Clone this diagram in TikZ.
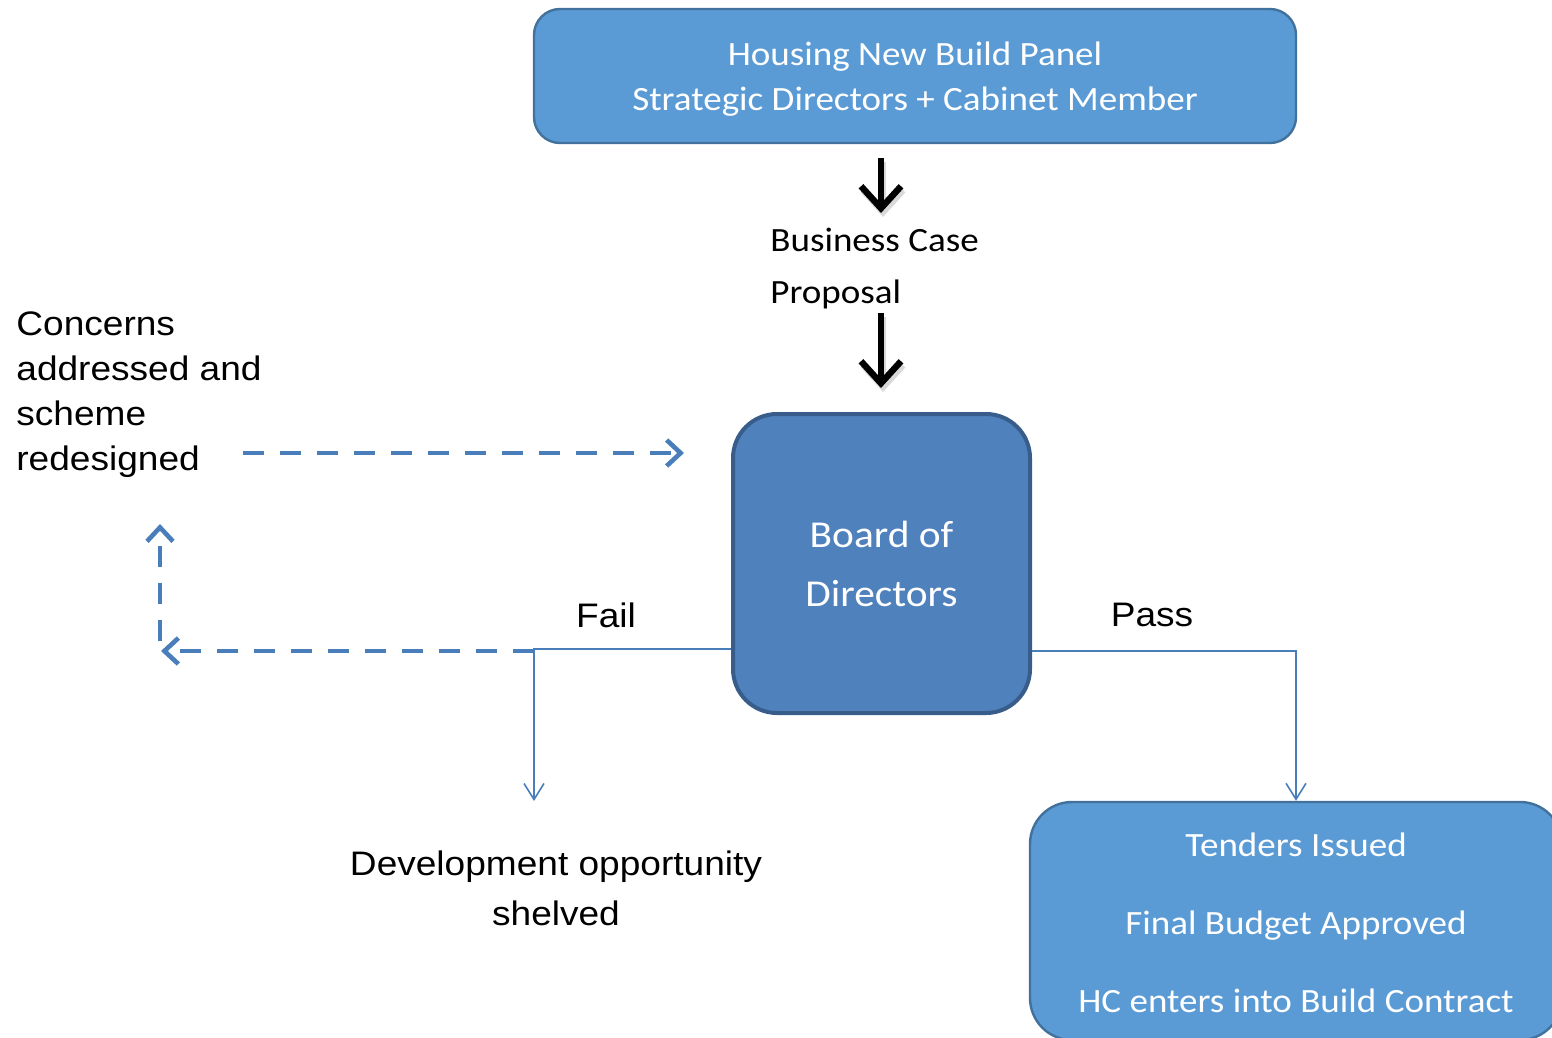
\documentclass[tikz,border=0pt]{standalone}
\usepackage{fontspec}
\setmainfont{Carlito}[FakeStretch=1.09]
\newfontfamily\arialf{Liberation Sans}[FakeStretch=1.09]
\usetikzlibrary{arrows.meta,calc}
\definecolor{boxfill}{HTML}{5B9BD5}
\definecolor{boxline}{HTML}{41719C}
\definecolor{boardfill}{HTML}{4F81BD}
\definecolor{boardline}{HTML}{385D8A}
\definecolor{conn}{HTML}{4A7EBB}
\begin{document}
\begin{tikzpicture}[x=0.5pt,y=-0.5pt,
  bluebox/.style={draw=boxline, fill=boxfill, line width=1.2pt, text=white, align=center, inner sep=0pt},
  boardbox/.style={draw=boardline, fill=boardfill, line width=2pt, rounded corners=22pt, text=white, align=center, inner sep=0pt},
  plaintext/.style={inner sep=0pt, text=black},
  bigarrow/.style={line width=3.2pt, black, -{Straight Barb[length=11pt,width=20pt]}},
  bigshadow/.style={line width=3.2pt, black!15, -{Straight Barb[length=11pt,width=20pt]}},
  thinconn/.style={draw=conn, line width=0.8pt, -{Straight Barb[length=8pt,width=10pt]}},
  loopconn/.style={draw=conn, line width=2.3pt, dash pattern=on 10.5pt off 8pt, -{Straight Barb[length=7pt,width=13pt]}}
]
\useasboundingbox (0,0) rectangle (1552,1038);
\clip (0,0) rectangle (1552,1038);

% boxes
\node[bluebox, rounded corners=13pt, minimum width=381pt, minimum height=67pt,
      font=\fontsize{17}{22.5}\selectfont] (panel) at (915,76)
      {\raisebox{-1.5pt}[\height][\depth]{\parbox{300pt}{\centering Housing New Build Panel\\Strategic Directors + Cabinet Member}}};
\node[boardbox, minimum width=148.5pt, minimum height=149.5pt,
      font=\fontsize{19}{29.5}\selectfont] (board) at (881.5,563.5)
      {Board of\\Directors};
\node[bluebox, rounded corners=21pt, minimum width=266pt, minimum height=119pt,
      font=\fontsize{17}{39}\selectfont] (tenders) at (1296,921)
      {\raisebox{-1pt}[\height][\depth]{\parbox{240pt}{\centering Tenders Issued\\Final Budget Approved\\HC enters into Build Contract}}};

% texts
\node[plaintext, anchor=west, align=left, font=\fontsize{17}{26}\selectfont] (bc) at (770,269)
      {Business Case\\Proposal};
\node[plaintext, anchor=north west, align=left, font=\arialf\fontsize{17}{22.5}\selectfont] (concerns) at (16,311)
      {Concerns\\addressed and\\scheme\\redesigned};
\node[plaintext, align=center, font=\arialf\fontsize{17}{25}\selectfont] (dev) at (556,888)
      {Development opportunity\\shelved};
\node[plaintext, font=\arialf\fontsize{17}{20}\selectfont] (fail) at (606,615) {Fail};
\node[plaintext, font=\arialf\fontsize{17}{20}\selectfont] (pass) at (1152,615) {Pass};

% coordinates
\coordinate (a1s) at (881,158);
\coordinate (a1e) at (881,213);
\coordinate (a2s) at (881,313);
\coordinate (a2e) at (881,388);
\coordinate (failJ) at (534,649);
\coordinate (failEnd) at (534,801);
\coordinate (passJ) at (1296,651);
\coordinate (loopA) at (534,651);
\coordinate (loopB) at (161,651);
\coordinate (loopC) at (160,641);
\coordinate (loopD) at (160,524);
\coordinate (backS) at (243,453);
\coordinate (backE) at (684,453);

% black arrows with soft shadow
\draw[bigshadow] ([shift={(2,4)}]a1s) -- ([shift={(2,4)}]a1e);
\draw[bigshadow] ([shift={(2,4)}]a2s) -- ([shift={(2,4)}]a2e);
\draw[bigarrow] (a1s) -- (a1e);
\draw[bigarrow] (a2s) -- (a2e);

% fail / pass connectors
\draw[thinconn] (board.west |- failJ) -- (failJ) -- (failEnd);
\draw[thinconn] (board.east |- passJ) -- (passJ) -- (tenders.north);

% loop back (dashed)
\draw[loopconn] (loopA) -- (loopB);
\draw[loopconn] (loopC) -- (loopD);
\draw[loopconn] (backS) -- (backE);
\end{tikzpicture}
\end{document}
